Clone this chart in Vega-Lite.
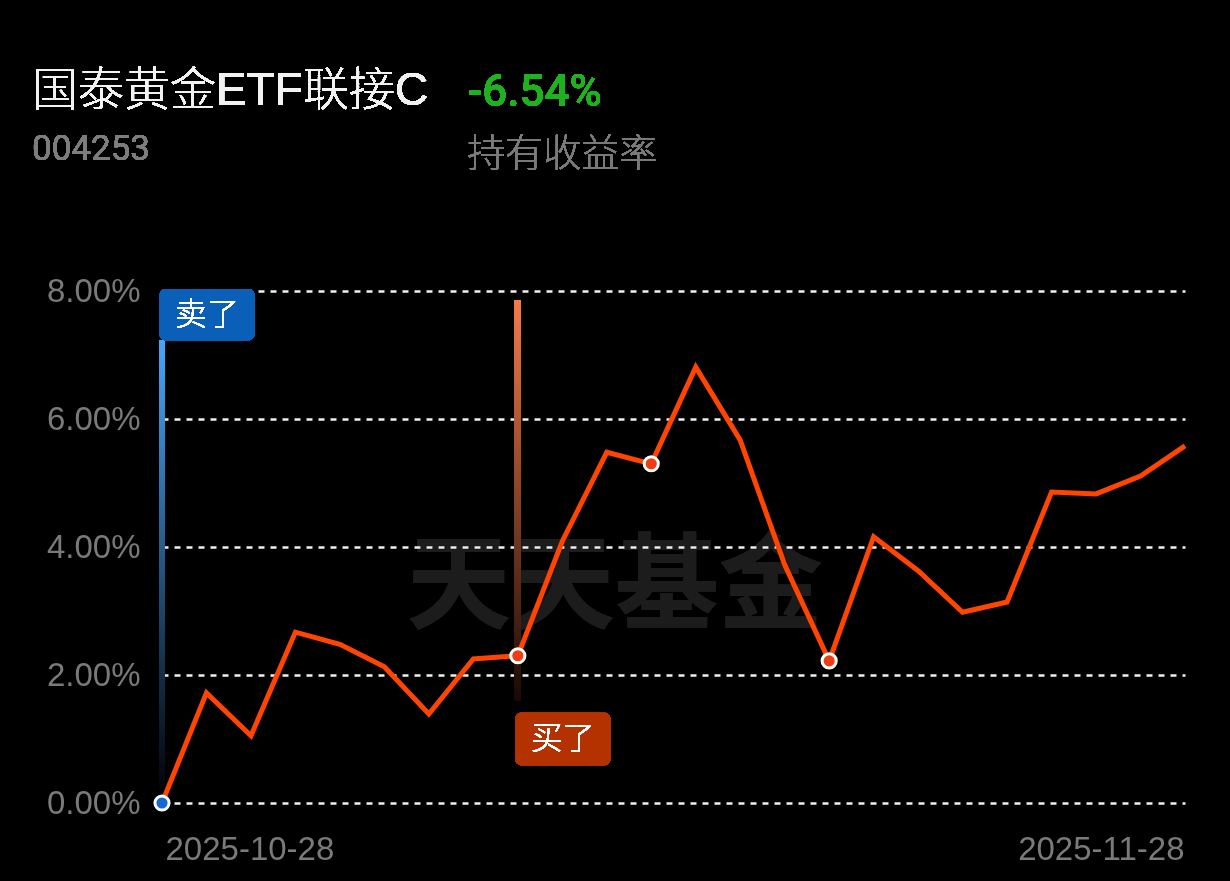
{
  "$schema": "https://vega.github.io/schema/vega-lite/v6.json",
  "background": "#000000",
  "autosize": {"type": "none"},
  "padding": {"left": 162, "top": 291, "right": 45, "bottom": 78},
  "width": 1023,
  "height": 512,
  "datasets": {
    "nav": [
      {"date": "2025-10-28", "value": 0.00, "trade": "sell"},
      {"date": "2025-10-29", "value": 1.72},
      {"date": "2025-10-30", "value": 1.05},
      {"date": "2025-10-31", "value": 2.67},
      {"date": "2025-11-03", "value": 2.48},
      {"date": "2025-11-04", "value": 2.13},
      {"date": "2025-11-05", "value": 1.39},
      {"date": "2025-11-06", "value": 2.25},
      {"date": "2025-11-07", "value": 2.30, "trade": "buy"},
      {"date": "2025-11-10", "value": 4.09},
      {"date": "2025-11-11", "value": 5.48},
      {"date": "2025-11-12", "value": 5.30, "trade": "buy"},
      {"date": "2025-11-13", "value": 6.81},
      {"date": "2025-11-14", "value": 5.67},
      {"date": "2025-11-17", "value": 3.72},
      {"date": "2025-11-18", "value": 2.22, "trade": "buy"},
      {"date": "2025-11-19", "value": 4.16},
      {"date": "2025-11-20", "value": 3.63},
      {"date": "2025-11-21", "value": 2.98},
      {"date": "2025-11-24", "value": 3.14},
      {"date": "2025-11-25", "value": 4.86},
      {"date": "2025-11-26", "value": 4.83},
      {"date": "2025-11-27", "value": 5.11},
      {"date": "2025-11-28", "value": 5.58}
    ]
  },
  "data": {"name": "nav"},
  "encoding": {
    "x": {
      "field": "date",
      "type": "ordinal",
      "scale": {"type": "point", "padding": 0},
      "axis": {
        "values": ["2025-10-28", "2025-11-28"],
        "title": null,
        "domain": false,
        "ticks": false,
        "grid": false,
        "labelAngle": 0,
        "labelFont": "Liberation Sans",
        "labelFontSize": 33,
        "labelColor": "#7a7a7a",
        "labelPadding": 30,
        "labelAlign": {"condition": {"test": "datum.value == '2025-10-28'", "value": "left"}, "value": "right"},
        "labelOffset": {"condition": {"test": "datum.value == '2025-10-28'", "value": 3}, "value": -1}
      }
    },
    "y": {
      "field": "value",
      "type": "quantitative",
      "scale": {"domain": [0, 8], "nice": false, "zero": false},
      "axis": {
        "values": [0, 2, 4, 6, 8],
        "labelExpr": "format(datum.value, '.2f') + '%'",
        "title": null,
        "domain": false,
        "ticks": false,
        "grid": true,
        "gridColor": "#f0f0f0",
        "gridDash": [6, 6],
        "gridWidth": 2.5,
        "labelFont": "Liberation Sans",
        "labelFontSize": 33,
        "labelColor": "#7a7a7a",
        "labelPadding": 22
      }
    }
  },
  "layer": [
    {
      "mark": {"type": "text", "text": "天天基金", "font": "Noto Sans CJK SC", "fontSize": 104, "fontWeight": "bold", "color": "#1c1c1c", "blend": "lighten", "align": "center", "baseline": "middle", "dx": 8},
      "encoding": {"x": {"datum": "2025-11-11", "type": "ordinal"}, "y": {"datum": 3.33, "type": "quantitative"}}
    },
    {
      "mark": {"type": "bar", "size": 6, "color": {"gradient": "linear", "x1": 0, "y1": 0, "x2": 0, "y2": 1, "stops": [{"offset": 0, "color": "#46a5fa"}, {"offset": 1, "color": "#000000"}]}},
      "encoding": {"x": {"datum": "2025-10-28", "type": "ordinal"}, "y": {"datum": 7.23, "type": "quantitative"}, "y2": {"datum": 0}}
    },
    {
      "mark": {"type": "bar", "size": 6, "color": {"gradient": "linear", "x1": 0, "y1": 0, "x2": 0, "y2": 1, "stops": [{"offset": 0, "color": "#f57a48"}, {"offset": 1, "color": "#1a0904"}]}},
      "encoding": {"x": {"datum": "2025-11-07", "type": "ordinal"}, "y": {"datum": 7.86, "type": "quantitative"}, "y2": {"datum": 1.6}}
    },
    {
      "mark": {"type": "line", "color": "#ff4500", "strokeWidth": 5}
    },
    {
      "transform": [{"filter": "isValid(datum.trade)"}],
      "mark": {"type": "point", "filled": true, "size": 200, "stroke": "#ffffff", "strokeWidth": 3, "opacity": 1},
      "encoding": {
        "color": {"field": "trade", "type": "nominal", "scale": {"domain": ["sell", "buy"], "range": ["#1566d6", "#f03c14"]}, "legend": null}
      }
    },
    {
      "mark": {"type": "bar", "size": 95, "xOffset": 45, "cornerRadius": 6, "color": "#0a60b8", "opacity": 0.88},
      "encoding": {"x": {"datum": "2025-10-28", "type": "ordinal"}, "y": {"datum": 8.03, "type": "quantitative"}, "y2": {"datum": 7.23}}
    },
    {
      "mark": {"type": "bar", "size": 95, "xOffset": 45, "cornerRadius": 6, "color": "#b33200"},
      "encoding": {"x": {"datum": "2025-11-07", "type": "ordinal"}, "y": {"datum": 1.41, "type": "quantitative"}, "y2": {"datum": 0.59}}
    },
    {
      "mark": {"type": "text", "text": "卖了", "font": "Noto Sans CJK SC", "fontSize": 32, "fontWeight": 300, "color": "#ffffff", "align": "center", "baseline": "middle", "dx": 45},
      "encoding": {"x": {"datum": "2025-10-28", "type": "ordinal"}, "y": {"datum": 7.62, "type": "quantitative"}}
    },
    {
      "mark": {"type": "text", "text": "买了", "font": "Noto Sans CJK SC", "fontSize": 32, "fontWeight": 300, "color": "#ffffff", "align": "center", "baseline": "middle", "dx": 45},
      "encoding": {"x": {"datum": "2025-11-07", "type": "ordinal"}, "y": {"datum": 1.0, "type": "quantitative"}}
    },
    {
      "mark": {"type": "text", "text": "国泰黄金ETF联接C", "font": "Liberation Sans, Noto Sans CJK SC", "fontSize": 46, "fontWeight": 300, "color": "#f2f2f2", "align": "left", "baseline": "alphabetic", "dx": -130},
      "encoding": {"x": {"datum": "2025-10-28", "type": "ordinal"}, "y": {"datum": 10.91, "type": "quantitative"}}
    },
    {
      "mark": {"type": "text", "text": "004253", "font": "Roboto", "fontSize": 35, "fontWeight": "normal", "color": "#7d7d7d", "align": "left", "baseline": "alphabetic", "dx": -130},
      "encoding": {"x": {"datum": "2025-10-28", "type": "ordinal"}, "y": {"datum": 10.05, "type": "quantitative"}}
    },
    {
      "mark": {"type": "text", "text": "-6.54%", "font": "Roboto", "fontSize": 44, "fontWeight": 500, "color": "#1eb31e", "align": "left", "baseline": "alphabetic", "dx": -6},
      "encoding": {"x": {"datum": "2025-11-06", "type": "ordinal"}, "y": {"datum": 10.89, "type": "quantitative"}}
    },
    {
      "mark": {"type": "text", "text": "持有收益率", "font": "Noto Sans CJK SC", "fontSize": 38, "fontWeight": 300, "color": "#7a7a7a", "align": "left", "baseline": "alphabetic", "dx": -6},
      "encoding": {"x": {"datum": "2025-11-06", "type": "ordinal"}, "y": {"datum": 9.95, "type": "quantitative"}}
    }
  ],
  "config": {"view": {"stroke": null}}
}
